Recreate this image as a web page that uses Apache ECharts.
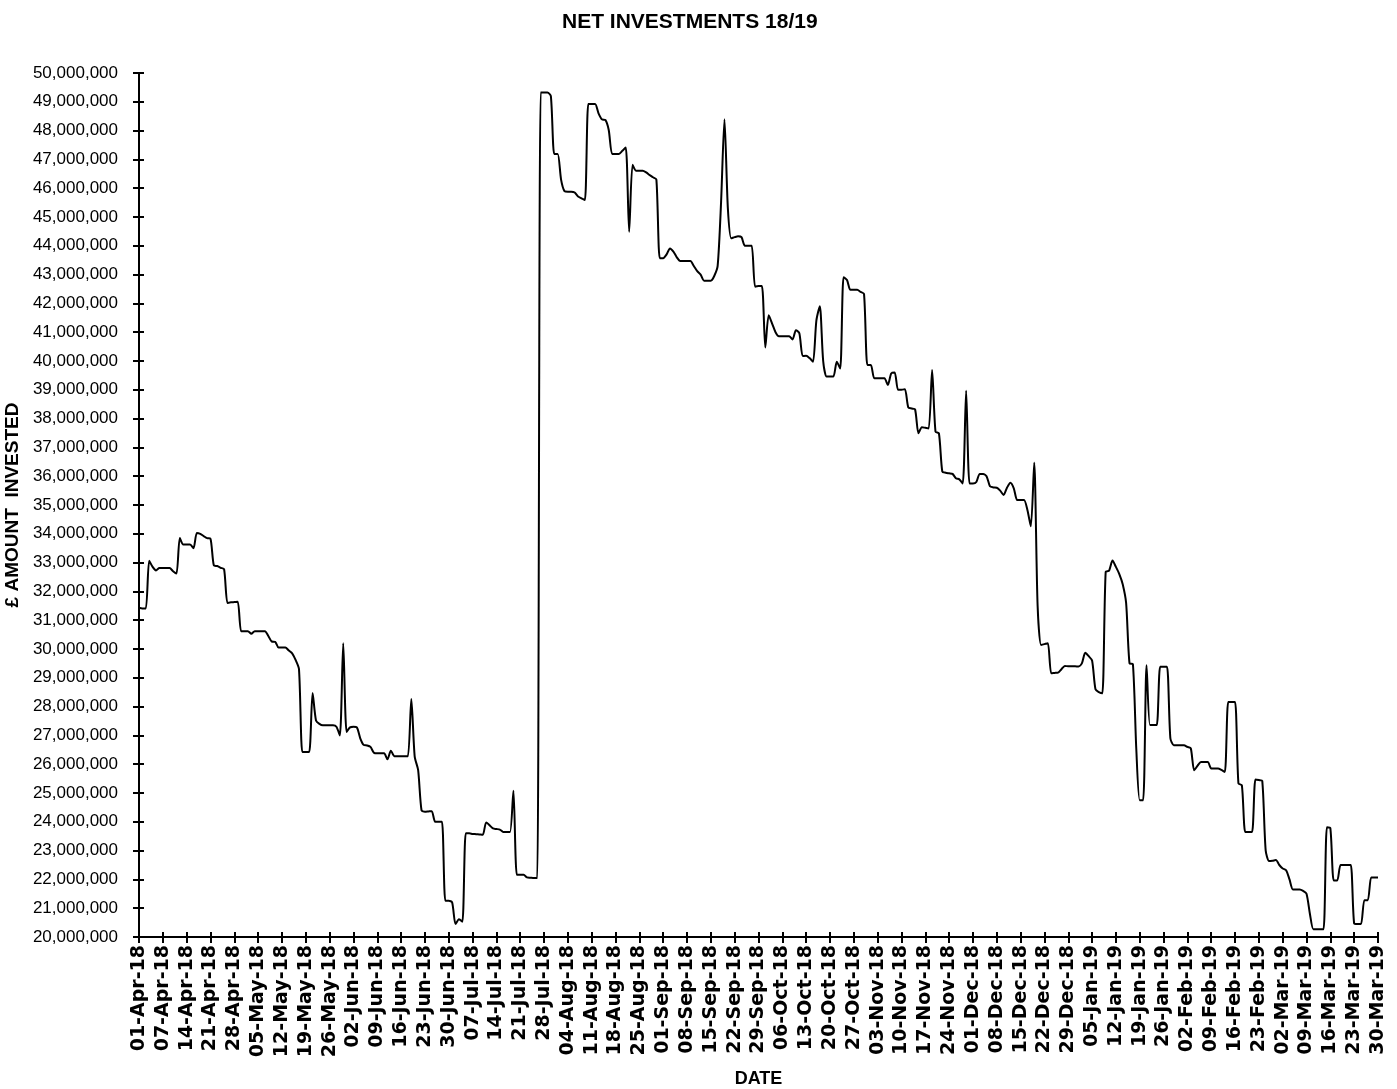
<!DOCTYPE html>
<html><head><meta charset="utf-8">
<script src="https://cdn.jsdelivr.net/npm/echarts/dist/echarts.min.js"></script>
<style>html,body{margin:0;padding:0;background:#fff}#chart{width:1397px;height:1089px}</style>
</head><body><div id="chart"></div><script>
const chartTitle = 'NET INVESTMENTS 18/19';
const xAxisName = 'DATE';
const yAxisName = '£ AMOUNT  INVESTED';

// Weekly tick labels shown on the date axis (every 7th point)
const tickLabels = ['01-Apr-18','07-Apr-18','14-Apr-18','21-Apr-18','28-Apr-18','05-May-18','12-May-18','19-May-18','26-May-18','02-Jun-18','09-Jun-18','16-Jun-18','23-Jun-18','30-Jun-18','07-Jul-18','14-Jul-18','21-Jul-18','28-Jul-18','04-Aug-18','11-Aug-18','18-Aug-18','25-Aug-18','01-Sep-18','08-Sep-18','15-Sep-18','22-Sep-18','29-Sep-18','06-Oct-18','13-Oct-18','20-Oct-18','27-Oct-18','03-Nov-18','10-Nov-18','17-Nov-18','24-Nov-18','01-Dec-18','08-Dec-18','15-Dec-18','22-Dec-18','29-Dec-18','05-Jan-19','12-Jan-19','19-Jan-19','26-Jan-19','02-Feb-19','09-Feb-19','16-Feb-19','23-Feb-19','02-Mar-19','09-Mar-19','16-Mar-19','23-Mar-19','30-Mar-19'];

// Daily net amount invested (£) in consecutive blocks
const block1 = [31430000,31410000,31410000,33060000,32850000,32730000,32810000,32810000,32810000,32810000,32700000,32620000,33850000,33630000,33630000,33630000,33500000,34030000,34000000,33920000,33850000,33830000,32900000,32880000,32820000,32770000,31600000,31620000,31630000,31640000];
const block2 = [30620000,30620000,30620000,30530000,30620000,30620000,30620000,30620000,30450000,30260000,30250000,30050000,30050000,30050000,29950000,29850000,29620000,29300000,26420000,26420000,26420000,28470000,27520000,27400000,27350000,27350000,27350000,27350000,27300000,27000000,30200000];
const block3 = [27120000,27280000,27300000,27280000,26900000,26670000,26650000,26600000,26400000,26380000,26380000,26380000,26170000,26470000,26280000,26280000,26280000,26280000,26280000,28260000,26260000,25800000,24400000,24350000,24360000,24370000,24000000,24000000,24000000,21260000];
const block4 = [21260000,21200000,20450000,20620000,20530000,23600000,23600000,23580000,23570000,23560000,23550000,23980000,23880000,23770000,23750000,23730000,23650000,23650000,23650000,25080000,22160000,22160000,22160000,22070000,22060000,22050000,22050000,49320000,49320000,49320000,49200000];
const block5 = [47190000,47190000,46300000,45900000,45880000,45880000,45850000,45710000,45650000,45590000,48920000,48920000,48920000,48600000,48390000,48370000,48020000,47190000,47190000,47190000,47300000,47410000,44490000,46810000,46610000,46610000,46610000,46550000,46460000,46380000,46300000];
const block6 = [43570000,43570000,43700000,43910000,43800000,43600000,43470000,43470000,43470000,43470000,43300000,43120000,43000000,42790000,42790000,42790000,42950000,43300000,45500000,48390000,45300000,44260000,44300000,44330000,44300000,44000000,44000000,44000000,42580000,42600000];
const block7 = [42600000,40470000,41590000,41300000,41000000,40860000,40860000,40860000,40860000,40750000,41070000,40960000,40170000,40180000,40100000,39970000,41400000,41900000,40000000,39460000,39460000,39460000,39970000,39740000,42910000,42810000,42470000,42470000,42470000,42400000,42330000];
const block8 = [39860000,39860000,39400000,39400000,39400000,39400000,39170000,39570000,39600000,39000000,39000000,39020000,38390000,38350000,38320000,37490000,37700000,37680000,37660000,39690000,37550000,37490000,36160000,36120000,36100000,36080000,35930000,35890000,35750000,38970000];
const block9 = [35750000,35750000,35800000,36080000,36080000,36000000,35650000,35610000,35600000,35500000,35350000,35600000,35770000,35580000,35170000,35170000,35170000,34830000,34260000,36470000,31500000,30140000,30170000,30200000,29160000,29170000,29180000,29300000,29410000,29400000,29400000];
const block10 = [29400000,29390000,29500000,29870000,29750000,29600000,28600000,28500000,28460000,32680000,32720000,33070000,32850000,32600000,32250000,31600000,29500000,29470000,26500000,24750000,24750000,29440000,27360000,27360000,27360000,29380000,29380000,29380000,26900000,26660000,26660000];
const block11 = [26660000,26660000,26600000,26550000,25790000,25950000,26080000,26080000,26080000,25850000,25850000,25850000,25800000,25730000,28160000,28160000,28160000,25330000,25270000,23650000,23650000,23650000,25470000,25450000,25420000,23010000,22640000,22650000];
const block12 = [22670000,22500000,22380000,22320000,22000000,21650000,21650000,21650000,21600000,21500000,20800000,20270000,20270000,20270000,20270000,23810000,23780000,21960000,21960000,22500000,22500000,22500000,22500000,20470000,20450000,20450000,21280000,21280000,22070000,22070000,22070000];

const amounts = [].concat(block1, block2, block3, block4, block5, block6, block7, block8, block9, block10, block11, block12);

const monthNames = ['Jan','Feb','Mar','Apr','May','Jun','Jul','Aug','Sep','Oct','Nov','Dec'];
const startDay = Date.UTC(2018, 2, 31);
const categories = amounts.map((_, i) => {
  const d = new Date(startDay + i * 86400000);
  return String(d.getUTCDate()).padStart(2, '0') + '-' + monthNames[d.getUTCMonth()] + '-' + String(d.getUTCFullYear()).slice(2);
});

const FONT = "'Liberation Sans', Arial, sans-serif";
const XFONT = "'DejaVu Sans', 'Liberation Sans', sans-serif";
const fmt = v => String(v).replace(/\B(?=(\d{3})+(?!\d))/g, ',');

const chart = echarts.init(document.getElementById('chart'), null, {renderer: 'canvas'});
chart.setOption({
  animation: false,
  backgroundColor: '#ffffff',
  title: {
    text: chartTitle, left: 557, top: 7,
    textStyle: {fontFamily: FONT, fontSize: 21, fontWeight: 'bold', color: '#000'}
  },
  grid: {left: 139, right: 19, top: 73, bottom: 152, containLabel: false, outerBoundsMode: 'none'},
  xAxis: [{
    type: 'category', data: categories, boundaryGap: false, position: 'bottom',
    name: xAxisName, nameLocation: 'middle', nameGap: 133,
    nameTextStyle: {fontFamily: FONT, fontSize: 18, fontWeight: 'bold', color: '#000'},
    axisLine: {show: true, lineStyle: {color: '#000', width: 2}},
    axisTick: {show: true, interval: 6, length: 6, lineStyle: {color: '#000', width: 2}},
    axisLabel: {interval: 6, rotate: 90, margin: 8, fontFamily: XFONT, fontSize: 19, fontWeight: 'bold', color: '#000',
      formatter: (val, idx) => tickLabels[Math.round(idx / 7)]},
    splitLine: {show: false}
  }, {
    type: 'category', data: categories, boundaryGap: false, position: 'bottom', gridIndex: 0,
    axisLine: {show: false},
    axisTick: {show: true, inside: true, interval: 6, length: 5, lineStyle: {color: '#000', width: 2}},
    axisLabel: {show: false}, splitLine: {show: false}
  }],
  yAxis: [{
    type: 'value', min: 20000000, max: 50000000, interval: 1000000, position: 'left',
    name: yAxisName, nameLocation: 'middle', nameGap: 112, nameRotate: 90,
    nameTextStyle: {fontFamily: FONT, fontSize: 19, fontWeight: 'bold', color: '#000'},
    axisLine: {show: true, lineStyle: {color: '#000', width: 2}},
    axisTick: {show: true, length: 6, lineStyle: {color: '#000', width: 2}},
    axisLabel: {margin: 21, fontFamily: FONT, fontSize: 17, color: '#000', formatter: fmt},
    splitLine: {show: false}
  }, {
    type: 'value', min: 20000000, max: 50000000, interval: 1000000, position: 'left', gridIndex: 0,
    axisLine: {show: false},
    axisTick: {show: true, inside: true, length: 5, lineStyle: {color: '#000', width: 2}},
    axisLabel: {show: false}, splitLine: {show: false}
  }],
  series: [{
    type: 'line', data: amounts, xAxisIndex: 0, yAxisIndex: 0,
    showSymbol: false, symbol: 'none', smooth: 0.25,
    lineStyle: {color: '#000', width: 2}
  }]
});
</script></body></html>
